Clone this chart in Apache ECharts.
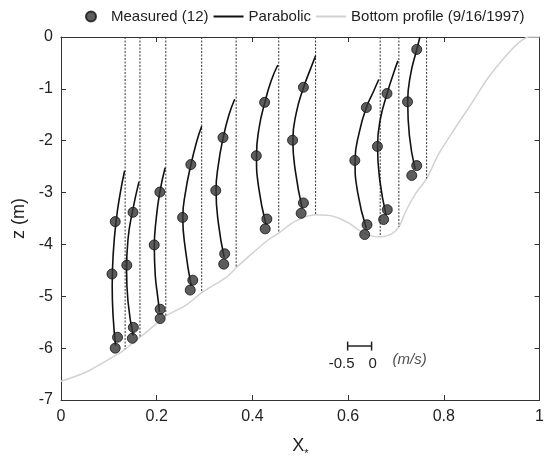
<!DOCTYPE html>
<html>
<head>
<meta charset="utf-8">
<script src="https://cdn.jsdelivr.net/npm/echarts@6/dist/echarts.min.js"></script>
<style>
html,body{margin:0;padding:0;background:#fff;}
#chart{width:547px;height:464px;}
</style>
</head>
<body>
<div id="chart"></div>
<script>
// ---------- data ----------
const VEL_SCALE = 0.1; // x* units per m/s (scale bar: 0.5 m/s)
const stationX = [0.134, 0.165, 0.219, 0.294, 0.366, 0.455, 0.532, 0.667, 0.706, 0.764];
const stationBottom = [-6.02, -5.79, -5.38, -4.93, -4.43, -3.78, -3.43, -3.85, -3.66, -2.73];

// measured velocities (m/s) and depths (m) per station
const measuredU = [
  [-0.207, -0.275, -0.159, -0.207],
  [-0.145, -0.275, -0.138, -0.159],
  [-0.124, -0.242, -0.118, -0.118],
  [-0.227, -0.399, -0.186, -0.240],
  [-0.275, -0.426, -0.240, -0.260],
  [-0.295, -0.469, -0.248, -0.283],
  [-0.254, -0.481, -0.254, -0.302],
  [-0.289, -0.531, -0.275, -0.324],
  [-0.248, -0.448, -0.242, -0.318],
  [-0.207, -0.399, -0.207, -0.310]
];
const measuredZ = [
  [-3.56, -4.57, -5.79, -6.00],
  [-3.38, -4.40, -5.60, -5.81],
  [-2.99, -4.01, -5.25, -5.43],
  [-2.46, -3.48, -4.69, -4.88],
  [-1.94, -2.96, -4.18, -4.38],
  [-1.26, -2.29, -3.51, -3.70],
  [-0.97, -1.99, -3.20, -3.40],
  [-1.36, -2.38, -3.62, -3.81],
  [-1.09, -2.11, -3.33, -3.52],
  [-0.24, -1.25, -2.48, -2.67]
];

// parabolic fit curves (u in m/s, z in m)
const parabolicU = [
  [-0.01, -0.10, -0.19, -0.25, -0.27, -0.25, -0.20],
  [-0.02, -0.16, -0.25, -0.28, -0.25, -0.14],
  [-0.014, -0.125, -0.20, -0.24, -0.22, -0.17, -0.13],
  [0.00, -0.10, -0.225, -0.34, -0.395, -0.34, -0.22],
  [-0.03, -0.15, -0.27, -0.37, -0.42, -0.37, -0.25],
  [-0.02, -0.16, -0.29, -0.41, -0.465, -0.42, -0.27],
  [0.00, -0.10, -0.25, -0.40, -0.475, -0.42, -0.28],
  [-0.03, -0.14, -0.29, -0.44, -0.525, -0.47, -0.29],
  [-0.02, -0.13, -0.245, -0.39, -0.445, -0.40, -0.27],
  [-0.14, -0.205, -0.33, -0.395, -0.36, -0.24]
];
const parabolicZ = [
  [-2.58, -3.00, -3.56, -4.20, -4.80, -5.40, -5.95],
  [-2.79, -3.38, -3.90, -4.50, -5.10, -5.76],
  [-2.52, -2.99, -3.50, -4.05, -4.60, -5.00, -5.30],
  [-1.72, -2.00, -2.46, -3.00, -3.48, -4.10, -4.79],
  [-1.20, -1.50, -1.94, -2.45, -2.96, -3.60, -4.25],
  [-0.54, -0.85, -1.26, -1.75, -2.29, -2.90, -3.60],
  [-0.36, -0.60, -0.97, -1.45, -1.99, -2.60, -3.30],
  [-0.82, -1.05, -1.36, -1.85, -2.38, -3.00, -3.69],
  [-0.46, -0.75, -1.09, -1.60, -2.11, -2.75, -3.42],
  [0.00, -0.24, -0.70, -1.25, -1.90, -2.55]
];

// bottom profile (9/16/1997)
const profileX = [0, 0.055, 0.125, 0.134, 0.165, 0.194, 0.219, 0.263, 0.294, 0.346, 0.366, 0.39, 0.432, 0.455, 0.49, 0.532, 0.57, 0.60, 0.625, 0.65, 0.667, 0.69, 0.706, 0.721, 0.741, 0.764, 0.789, 0.824, 0.86, 0.893, 0.93, 0.958, 0.978, 1.0];
const profileZ = [-6.64, -6.45, -6.08, -6.02, -5.79, -5.57, -5.38, -5.16, -4.93, -4.63, -4.45, -4.25, -3.92, -3.78, -3.55, -3.43, -3.46, -3.58, -3.74, -3.84, -3.85, -3.80, -3.66, -3.35, -3.02, -2.73, -2.26, -1.75, -1.25, -0.78, -0.36, -0.10, 0.0, 0.0];

// scale bar
const scaleBarU = [-0.5, 0];
const scaleBarLabels = ['-0.5', '0'];
const scaleBarX0 = 0.649;
const scaleBarZ = -5.96;
const scaleUnit = '(m/s)';

const xTicks = [0, 0.2, 0.4, 0.6, 0.8, 1];
const yTicks = [-7, -6, -5, -4, -3, -2, -1, 0];

// ---------- chart ----------
const FONT = '"Liberation Sans", Arial, Helvetica, sans-serif';
const chart = echarts.init(document.getElementById('chart'), null, {renderer: 'canvas'});

const series = [];

// bottom profile
series.push({
  name: 'Bottom profile (9/16/1997)',
  type: 'line',
  data: profileX.map((x, i) => [x, profileZ[i]]),
  smooth: 0.3,
  symbol: 'none',
  lineStyle: {color: '#d2d2d2', width: 1.5},
  itemStyle: {color: '#d2d2d2'},
  z: 1
});

// station dotted lines
stationX.forEach((sx, i) => {
  series.push({
    type: 'line',
    data: [[sx, 0], [sx, stationBottom[i]]],
    symbol: 'none',
    lineStyle: {color: '#333', width: 1, type: [2, 1.5]},
    silent: true,
    z: 2
  });
});

// parabolic curves
parabolicU.forEach((us, i) => {
  series.push({
    name: 'Parabolic',
    type: 'line',
    data: us.map((u, k) => [stationX[i] + u * VEL_SCALE, parabolicZ[i][k]]),
    smooth: 0.5,
    symbol: 'none',
    lineStyle: {color: '#111', width: 1.6},
    itemStyle: {color: '#111'},
    z: 3
  });
});

// measured points
const measuredData = [];
measuredU.forEach((us, i) => {
  us.forEach((u, k) => measuredData.push([stationX[i] + u * VEL_SCALE, measuredZ[i][k]]));
});
series.push({
  name: 'Measured (12)',
  type: 'scatter',
  data: measuredData,
  symbol: 'circle',
  symbolSize: 10,
  itemStyle: {color: '#353535', borderColor: '#111', borderWidth: 1},
  z: 4
});

// scale bar
series.push({
  type: 'line',
  data: scaleBarU.map(u => [scaleBarX0 + u * VEL_SCALE, scaleBarZ]),
  symbol: 'rect',
  symbolSize: [1.5, 9],
  showSymbol: true,
  lineStyle: {color: '#222', width: 1.5},
  itemStyle: {color: '#222'},
  label: {
    show: true,
    position: 'bottom',
    distance: 6,
    fontFamily: FONT,
    fontSize: 15,
    color: '#222',
    formatter: p => scaleBarLabels[p.dataIndex]
  },
  labelLayout: function (params) {
    return params.dataIndex === 0 ? {dx: -6} : {dx: 1};
  },
  silent: true,
  z: 5
});
series.push({
  type: 'scatter',
  data: [[scaleBarX0, scaleBarZ]],
  symbolSize: 0,
  label: {
    show: true,
    position: 'bottom',
    distance: 6,
    offset: [38, 0],
    fontFamily: FONT,
    fontSize: 15,
    fontStyle: 'italic',
    color: '#222',
    formatter: scaleUnit
  },
  silent: true,
  z: 5
});

const axisLineStyle = {color: '#333', width: 1};
const lineIcon = 'path://M0,0L30,0L30,2L0,2Z';

const option = {
  backgroundColor: '#fff',
  animation: false,
  textStyle: {fontFamily: FONT},
  legend: {
    data: [
      {name: 'Measured (12)', icon: 'circle'},
      {name: 'Parabolic', icon: lineIcon},
      {name: 'Bottom profile (9/16/1997)', icon: lineIcon}
    ],
    top: 4,
    left: 80,
    itemWidth: 30,
    itemHeight: 10,
    itemGap: 5,
    textStyle: {fontFamily: FONT, fontSize: 15, color: '#222'},
    selectedMode: false
  },
  grid: {left: 61, right: 1, top: 37, bottom: 55},
  xAxis: [{
    type: 'value',
    min: xTicks[0],
    max: xTicks[xTicks.length - 1],
    interval: 0.2,
    position: 'bottom',
    axisLine: {show: true, onZero: false, lineStyle: axisLineStyle},
    axisTick: {show: true, inside: true, length: 5, lineStyle: axisLineStyle},
    axisLabel: {fontFamily: FONT, fontSize: 16, color: '#222', margin: 9},
    splitLine: {show: false},
    name: 'X{s|*}',
    nameLocation: 'middle',
    nameGap: 34,
    nameTextStyle: {
      fontFamily: FONT, fontSize: 18, color: '#222',
      rich: {s: {fontFamily: FONT, fontSize: 11, color: '#222', verticalAlign: 'bottom', padding: [14, 0, 0, 0]}}
    }
  }, {
    type: 'value',
    min: xTicks[0],
    max: xTicks[xTicks.length - 1],
    interval: 0.2,
    position: 'top',
    axisLine: {show: true, onZero: false, lineStyle: axisLineStyle},
    axisTick: {show: true, inside: true, length: 5, lineStyle: axisLineStyle},
    axisLabel: {show: false},
    splitLine: {show: false}
  }],
  yAxis: [{
    type: 'value',
    min: yTicks[0],
    max: yTicks[yTicks.length - 1],
    interval: 1,
    position: 'left',
    axisLine: {show: true, onZero: false, lineStyle: axisLineStyle},
    axisTick: {show: true, inside: true, length: 5, lineStyle: axisLineStyle},
    axisLabel: {fontFamily: FONT, fontSize: 16, color: '#222', margin: 8},
    splitLine: {show: false},
    name: 'z (m)',
    nameLocation: 'middle',
    nameRotate: 90,
    nameGap: 30,
    nameTextStyle: {fontFamily: FONT, fontSize: 18, color: '#222'}
  }, {
    type: 'value',
    min: yTicks[0],
    max: yTicks[yTicks.length - 1],
    interval: 1,
    position: 'right',
    axisLine: {show: true, onZero: false, lineStyle: axisLineStyle},
    axisTick: {show: true, inside: true, length: 5, lineStyle: axisLineStyle},
    axisLabel: {show: false},
    splitLine: {show: false}
  }],
  series: series
};
chart.setOption(option);
</script>
</body>
</html>
